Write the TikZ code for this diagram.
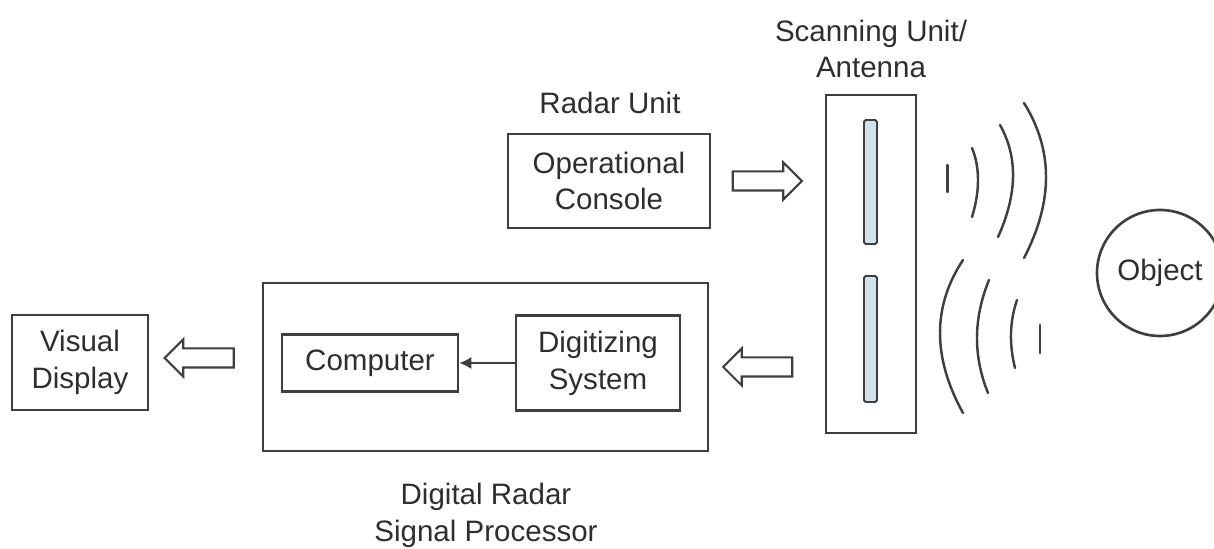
\documentclass[tikz,border=0pt]{standalone}
\usepackage{fontspec}
\setmainfont{Liberation Sans}
\usepackage{tikz}
\usetikzlibrary{arrows.meta,positioning,shapes.arrows,calc}
\usepackage{xcolor}
\definecolor{linec}{HTML}{3F3F3F}
\definecolor{textc}{HTML}{2E2E2E}
\definecolor{barc}{HTML}{CFE1EB}

\begin{document}
\begin{tikzpicture}[font=\fontsize{16.8}{21}\selectfont\color{textc},
  box/.style={draw=linec,line width=1.5pt,align=center,inner sep=0pt},
  bar/.style={draw=linec,fill=barc,line width=1.1pt,rounded corners=1pt,minimum width=0.26cm,inner sep=0pt},
  hollow/.style={single arrow,draw=linec,line width=1.2pt,minimum height=1.38cm,minimum width=0.70cm,
    single arrow head extend=0.18cm,inner xsep=0pt,inner ysep=0.17cm},
  wave/.style={draw=linec,line width=1.4pt,line cap=round},
  lbl/.style={align=center,inner sep=0pt}]
\useasboundingbox (0,0) rectangle (24.28,10.98);

\node[lbl] (scanlbl) at (17.42,10.0) {Scanning Unit/\\Antenna};
\node[lbl] (radarlbl) at (12.2,8.92) {Radar Unit};
\node[box,minimum width=4.04cm,minimum height=1.88cm] (console) at (12.18,7.36) {Operational\\Console};
\node[box,minimum width=1.80cm,minimum height=6.76cm] (antenna) at (17.42,5.70) {};
\node[bar,minimum height=2.48cm] (barup) at (17.41,7.34) {};
\node[bar,minimum height=2.52cm] (barlow) at (17.41,4.20) {};

\node[box,minimum width=8.90cm,minimum height=3.36cm] (dsp) at (9.71,3.64) {};
\node[box,minimum width=3.52cm,minimum height=1.14cm] (comp) at (7.40,3.72) {Computer};
\node[box,minimum width=3.28cm,minimum height=1.90cm] (digit) at (11.96,3.72) {Digitizing\\System};
\node[lbl] (dsplbl) at (9.72,0.68) {Digital Radar\\Signal Processor};
\node[box,minimum width=2.72cm,minimum height=1.90cm] (visual) at (1.60,3.73) {Visual\\Display};
\node[circle,draw=linec,line width=1.5pt,minimum size=2.52cm,inner sep=0pt] (obj) at (23.2,5.52) {Object};

% hollow flow arrows
\node[hollow] (a1) at (15.25,7.36) {};
\node[hollow,shape border rotate=180] (a2) at (15.25,3.64) {};
\node[hollow,shape border rotate=180] (a3) at (4.08,3.82) {};

\draw[-{Latex[length=0.24cm,width=0.24cm]},line width=0.8pt,linec] (digit.west) -- (comp.east);

% transmitted and reflected waves
\draw[wave] (18.95,7.68) -- (18.95,7.14);
\foreach \tx/\ty/\cx/\cy/\bx/\by in {19.44/8.02/19.68/7.43/19.44/6.64, 20.0/8.48/20.54/7.52/19.96/6.24,
  20.48/8.92/21.36/7.51/20.48/5.82, 19.26/5.78/18.34/4.39/19.26/2.72,
  19.78/5.38/19.31/4.23/19.76/3.12, 20.34/4.98/20.12/4.34/20.30/3.62}
  {\draw[wave] (\tx,\ty) .. controls ($(\tx,\ty)!0.667!(\cx,\cy)$) and ($(\bx,\by)!0.667!(\cx,\cy)$) .. (\bx,\by);}
\draw[wave] (20.80,4.48) -- (20.80,3.92);

\end{tikzpicture}
\end{document}
